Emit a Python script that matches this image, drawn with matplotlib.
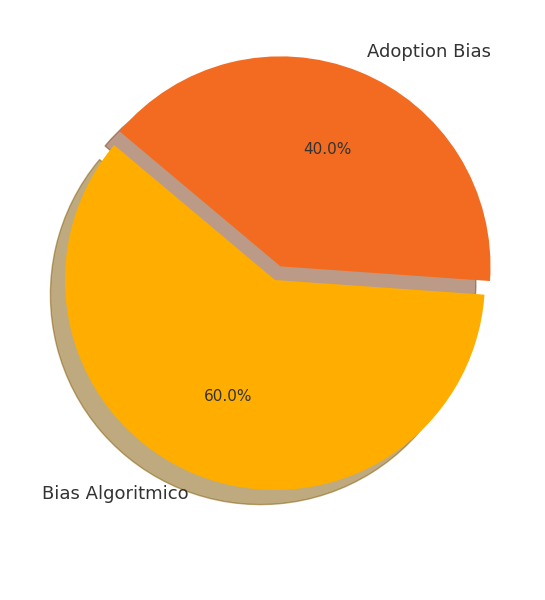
import matplotlib
matplotlib.use("Agg")
import matplotlib.pyplot as plt

labels = ["Bias Algoritmico", "Adoption Bias"]
sizes = [60, 40]
colors = ["#FFAE00", "#F26B21"]
explode = [0, 0.07]

fig = plt.figure(figsize=(5.45, 6), dpi=100)
ax = fig.add_axes([0, 0, 1, 1])
wedges, texts, autotexts = ax.pie(sizes, labels=labels, colors=colors, explode=explode,
                                  autopct="%1.1f%%", startangle=140,
                                  shadow={"ox": -0.05, "oy": -0.05, "shade": 0.5},
                                  textprops={"color": "#333333", "fontsize": 11})
for t in texts:
    t.set_fontsize(13)
ax.set_xlim(-275/210, 270/210)
ax.set_ylim(-320/210, 280/210)
ax.set_aspect("equal")
ax.axis("off")
fig.savefig("out.png", dpi=100)
